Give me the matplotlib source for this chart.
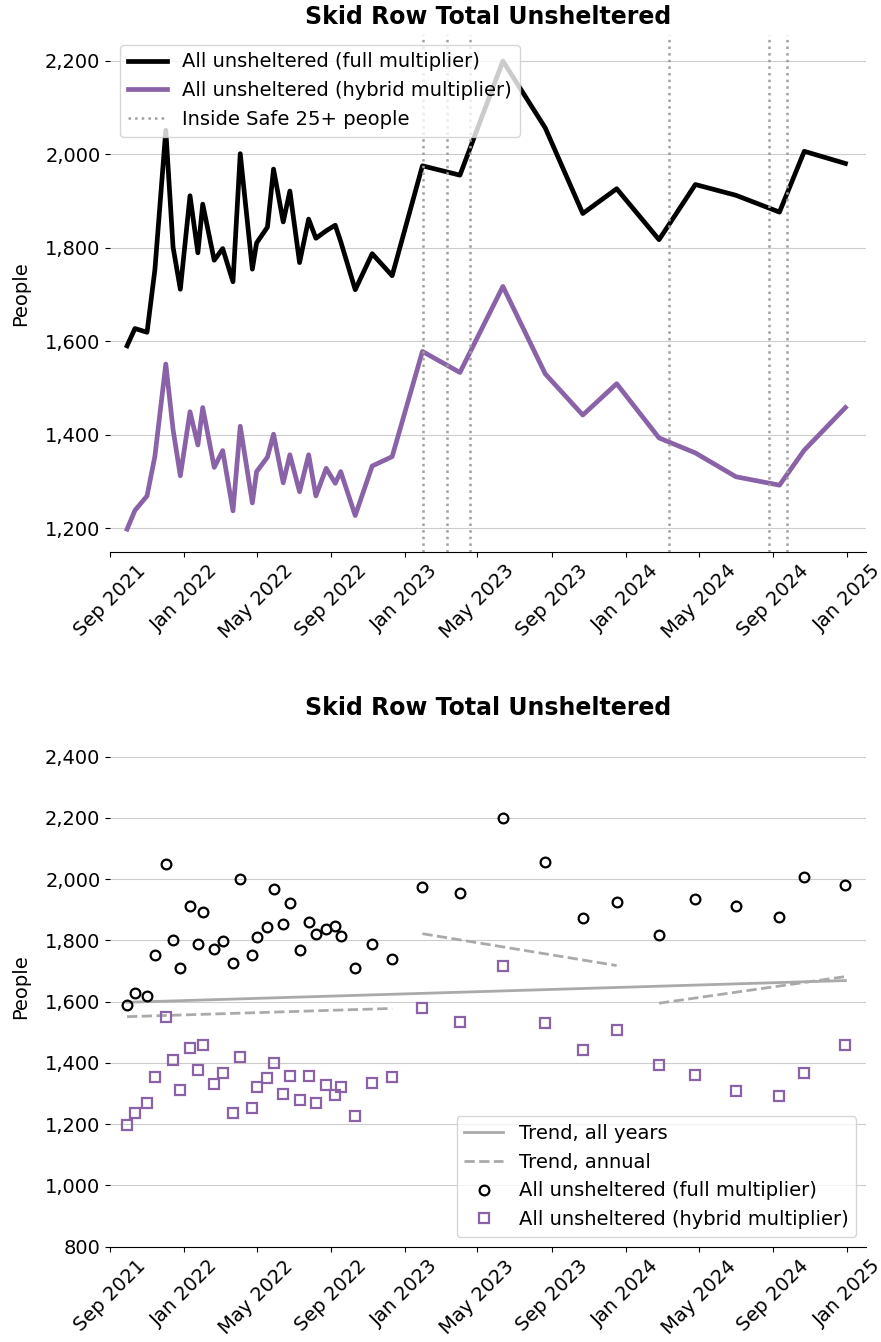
import matplotlib
matplotlib.use("Agg")
import matplotlib.pyplot as plt
import matplotlib.dates as mdates
import matplotlib.ticker as mticker
import numpy as np
import pandas as pd

# count dates
dates = pd.to_datetime([
    "2021-09-29", "2021-10-12", "2021-11-01", "2021-11-14", "2021-12-02",
    "2021-12-14", "2021-12-26", "2022-01-11", "2022-01-24", "2022-02-01",
    "2022-02-20", "2022-03-06", "2022-03-23", "2022-04-04", "2022-04-24",
    "2022-05-01", "2022-05-19", "2022-05-29", "2022-06-14", "2022-06-25",
    "2022-07-11", "2022-07-26", "2022-08-07", "2022-08-24", "2022-09-08",
    "2022-09-17", "2022-10-11", "2022-11-08", "2022-12-11", "2023-01-30",
    "2023-04-02", "2023-06-12", "2023-08-21", "2023-10-22", "2023-12-17",
    "2024-02-25", "2024-04-25", "2024-07-01", "2024-09-11", "2024-10-22",
    "2024-12-29",
])

full_mult = [
    1590, 1627, 1619, 1753, 2051, 1801, 1711, 1911, 1789, 1893,
    1773, 1798, 1727, 2001, 1754, 1810, 1844, 1968, 1855, 1921,
    1768, 1861, 1820, 1836, 1848, 1813, 1710, 1787, 1740, 1975,
    1955, 2199, 2056, 1873, 1926, 1817, 1935, 1912, 1876, 2006,
    1980,
]

hybrid_mult = [
    1198, 1238, 1269, 1354, 1551, 1411, 1312, 1449, 1378, 1458,
    1330, 1366, 1237, 1418, 1254, 1321, 1352, 1401, 1297, 1357,
    1278, 1357, 1269, 1328, 1296, 1321, 1227, 1333, 1353, 1578,
    1533, 1717, 1530, 1442, 1509, 1393, 1361, 1310, 1292, 1367,
    1458,
]

# Inside Safe operations with 25+ people
inside_safe = pd.to_datetime([
    "2023-01-31", "2023-03-12", "2023-04-18", "2024-03-13", "2024-08-25", "2024-09-23",
])

# trend lines (start, end)
trend_all_dates = pd.to_datetime(["2021-09-29", "2024-12-29"])
trend_all_vals = [1598, 1669]
trend_annual = [
    (pd.to_datetime(["2021-09-29", "2022-12-11"]), [1551, 1578]),
    (pd.to_datetime(["2023-01-30", "2023-12-17"]), [1822, 1718]),
    (pd.to_datetime(["2024-02-25", "2024-12-29"]), [1595, 1682]),
]

purple = "#8A62A8"
grey = "#AAAAAA"

fig = plt.figure(figsize=(8.81, 13.42), dpi=100)
ax1 = fig.add_axes([0.125, 0.589, 0.858, 0.385])
ax2 = fig.add_axes([0.125, 0.071, 0.858, 0.388])

xlim = (pd.Timestamp("2021-09-01"), pd.Timestamp("2025-02-01"))


def style_axis(ax):
    for s in ["top", "right", "left"]:
        ax.spines[s].set_visible(False)
    ax.grid(axis="y", color="#CCCCCC", linewidth=0.8)
    ax.set_axisbelow(True)
    ax.set_xlim(*xlim)
    ax.xaxis.set_major_locator(mdates.MonthLocator(bymonth=[1, 5, 9]))
    ax.xaxis.set_major_formatter(mdates.DateFormatter("%b %Y"))
    ax.yaxis.set_major_formatter(mticker.StrMethodFormatter("{x:,.0f}"))
    ax.tick_params(labelsize=14)
    plt.setp(ax.get_xticklabels(), rotation=45)
    ax.set_ylabel("People", fontsize=14, labelpad=11)
    ax.set_title("Skid Row Total Unsheltered", fontsize=17, fontweight="bold", pad=8)


# top: time series
ax1.plot(dates, full_mult, color="black", lw=3.4, label="All unsheltered (full multiplier)")
ax1.plot(dates, hybrid_mult, color=purple, lw=3.4, label="All unsheltered (hybrid multiplier)")
for i, d in enumerate(inside_safe):
    ax1.axvline(d, color="#A0A0A0", ls=":", lw=1.8,
                label="Inside Safe 25+ people" if i == 0 else None, zorder=3)
ax1.set_ylim(1150, 2255)
ax1.yaxis.set_major_locator(mticker.MultipleLocator(200))
style_axis(ax1)
ax1.legend(loc="upper left", fontsize=14)

# bottom: scatter with trends
ax2.plot(trend_all_dates, trend_all_vals, color=grey, lw=2, label="Trend, all years")
for i, (d, v) in enumerate(trend_annual):
    ax2.plot(d, v, color=grey, lw=2, ls="--", label="Trend, annual" if i == 0 else None)
ax2.plot(dates, full_mult, ls="none", marker="o", ms=7, mfc="none", mec="black", mew=1.6,
         label="All unsheltered (full multiplier)")
ax2.plot(dates, hybrid_mult, ls="none", marker="s", ms=7, mfc="none", mec=purple, mew=1.6,
         label="All unsheltered (hybrid multiplier)")
ax2.set_ylim(800, 2500)
ax2.yaxis.set_major_locator(mticker.MultipleLocator(200))
style_axis(ax2)
ax2.legend(loc="lower right", fontsize=14)

fig.savefig("out.png", dpi=100)
